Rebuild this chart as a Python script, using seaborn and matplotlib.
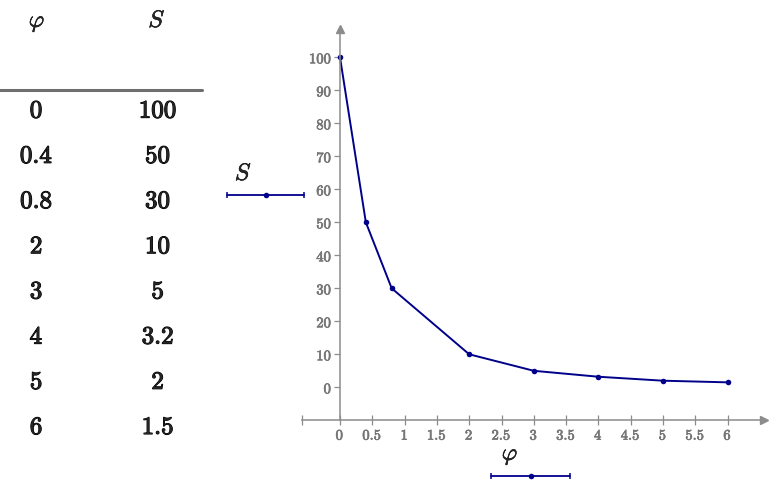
import matplotlib
matplotlib.use('Agg')
import matplotlib.pyplot as plt
import matplotlib.patheffects as pe
from matplotlib.lines import Line2D
import seaborn as sns
import numpy as np
import pandas as pd

phi = [0, 0.4, 0.8, 2, 3, 4, 5, 6]
S = [100, 50, 30, 10, 5, 3.2, 2, 1.5]
x_ticks = [0, 0.5, 1, 1.5, 2, 2.5, 3, 3.5, 4, 4.5, 5, 5.5, 6]
y_ticks = [0, 10, 20, 30, 40, 50, 60, 70, 80, 90, 100]

sns.set_style('white')
plt.rcParams['mathtext.fontset'] = 'cm'

W, H = 770, 498
fig = plt.figure(figsize=(W / 100, H / 100), dpi=100)

line_col = '#00008b'
axis_col = '#8c8c8c'
tick_col = '#767676'


def fx(px):
    return px / W


def fy(py):
    return 1 - py / H


def bold(v):
    return r'$\mathbf{%s}$' % v


# thicken the computer modern strokes a bit, the original digits are heavier
fat = [pe.withStroke(linewidth=0.8, foreground='black')]
semi = [pe.withStroke(linewidth=0.4, foreground='black')]
fat_grey = [pe.withStroke(linewidth=0.5, foreground=tick_col)]

# table on the left
fig.text(fx(37), fy(22), r'$\varphi$', fontsize=17, ha='center', va='center', path_effects=semi)
fig.text(fx(157), fy(20), r'$S$', fontsize=17, ha='center', va='center', path_effects=semi)
fig.add_artist(Line2D([fx(0), fx(202)], [fy(90), fy(90)], color='#6e6e6e', lw=2.2))
for i, (p, s) in enumerate(zip(phi, S)):
    yy = fy(110.7 + i * 45.2)
    fig.text(fx(36.5), yy, bold(f'{p:g}'), fontsize=18, ha='center', va='center', path_effects=fat)
    fig.text(fx(158), yy, bold(f'{s:g}'), fontsize=18, ha='center', va='center', path_effects=fat)

# plot area, pixel edges picked so that 0 -> 340px, 6 -> 728px and 0 -> 387px, 100 -> 57px
left, right, top, bottom = 302.3, 763.5, 29.0, 420.0
xlim = ((left - 340) / 64.6, (right - 340) / 64.6)
ylim = ((387.3 - bottom) / 3.3, (387.3 - top) / 3.3)
ax = fig.add_axes([fx(left), fy(bottom), fx(right) - fx(left), fy(top) - fy(bottom)])
ax.patch.set_alpha(0)

df = pd.DataFrame({'phi': phi, 'S': S})
sns.lineplot(data=df, x='phi', y='S', ax=ax, color=line_col, lw=1.4,
             marker='o', markersize=4, markeredgewidth=0, sort=False)

ax.set_xlim(*xlim)
ax.set_ylim(*ylim)
ax.set_xlabel('')
ax.set_ylabel('')

for side in ['top', 'right']:
    ax.spines[side].set_visible(False)
ax.spines['left'].set_position(('data', 0))
ax.spines['left'].set_color(axis_col)
ax.spines['bottom'].set_color(axis_col)
ax.spines['left'].set_linewidth(1.1)
ax.spines['bottom'].set_linewidth(1.1)

ax.set_xticks(x_ticks)
ax.set_xticklabels([bold(f'{v:g}') for v in x_ticks])
ax.set_yticks(y_ticks)
ax.set_yticklabels([bold(f'{v:g}') for v in y_ticks])
ax.tick_params(axis='x', direction='inout', length=7, width=0.9, color=axis_col,
               labelcolor=tick_col, labelsize=10.5, pad=2, bottom=True)
ax.tick_params(axis='y', direction='out', length=4.5, width=0.9, color=axis_col,
               labelcolor=tick_col, labelsize=10.5, pad=1, left=True)
for lab in ax.get_xticklabels() + ax.get_yticklabels():
    lab.set_path_effects(fat_grey)

# axis arrows and the left end tick
ax.plot(1, 0, '>', color=axis_col, ms=6, transform=ax.transAxes, clip_on=False)
ax.plot(0, 1, '^', color=axis_col, ms=6, transform=ax.get_xaxis_transform(), clip_on=False)
ax.plot(0, 0, '|', color=axis_col, ms=7, mew=0.9, transform=ax.transAxes, clip_on=False)

# legend swatches
fig.text(fx(243.5), fy(173), r'$S$', fontsize=17, ha='center', va='center', path_effects=semi)
fig.add_artist(Line2D([fx(227), fx(304)], [fy(195.5), fy(195.5)], color=line_col, lw=1.3))
fig.add_artist(Line2D([fx(227), fx(304)], [fy(195.5), fy(195.5)], color=line_col, lw=0,
                      marker='|', ms=5, mew=1.1))
fig.add_artist(Line2D([fx(265.5)], [fy(195.5)], color=line_col, marker='o', ms=4, mew=0))

fig.text(fx(510), fy(455), r'$\varphi$', fontsize=17, ha='center', va='center', path_effects=semi)
fig.add_artist(Line2D([fx(491), fx(570)], [fy(475.5), fy(475.5)], color=line_col, lw=1.3))
fig.add_artist(Line2D([fx(491), fx(570)], [fy(475.5), fy(475.5)], color=line_col, lw=0,
                      marker='|', ms=5, mew=1.1))
fig.add_artist(Line2D([fx(530.5)], [fy(475.5)], color=line_col, marker='o', ms=4, mew=0))

fig.savefig('out.png', dpi=100)
